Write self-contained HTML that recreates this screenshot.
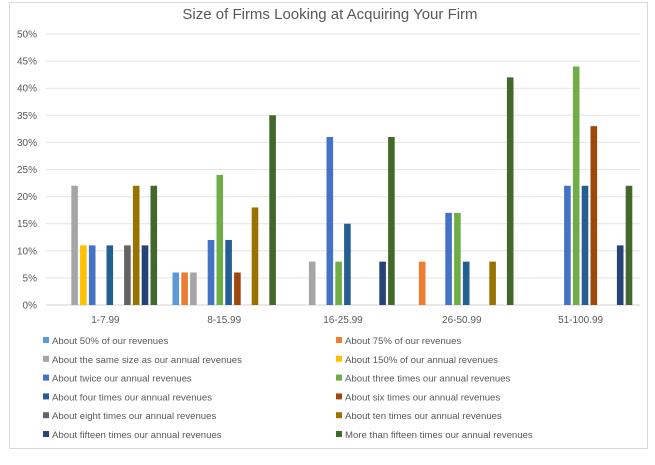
<!DOCTYPE html>
<html><head><meta charset="utf-8"><style>
body{margin:0;background:#fff;font-family:"Liberation Sans",sans-serif;}
#frame{position:absolute;left:9px;top:2px;width:639px;height:447px;border:1px solid #d9d9d9;box-sizing:border-box;}
</style></head><body>
<div id="frame"></div>
<svg id="chart" width="655" height="465" style="position:absolute;left:0;top:0">
<text x="330" y="19" text-anchor="middle" font-size="15" fill="#595959">Size of Firms Looking at Acquiring Your Firm</text>
<g id="grid"></g><g id="bars"></g><g id="legend"></g>
</svg>
<script>
const categories=["1-7.99","8-15.99","16-25.99","26-50.99","51-100.99"];
const seriesNames=["About 50% of our revenues","About 75% of our revenues","About the same size as our annual revenues","About 150% of our annual revenues","About twice our annual revenues","About three times our annual revenues","About four times our annual revenues","About six times our annual revenues","About eight times our annual revenues","About ten times our annual revenues","About fifteen times our annual revenues","More than fifteen times our annual revenues"];
const colors=["#5B9BD5","#ED7D31","#A5A5A5","#FFC000","#4472C4","#70AD47","#255E91","#9E480E","#636363","#997300","#264478","#43682B"];
const s50=[0,6,0,0,0];
const s75=[0,6,0,8,0];
const sSame=[22,6,8,0,0];
const s150=[11,0,0,0,0];
const sTwice=[11,12,31,17,22];
const sThree=[0,24,8,17,44];
const sFour=[11,12,15,8,22];
const sSix=[0,6,0,0,33];
const sEight=[11,0,0,0,0];
const sTen=[22,18,0,8,0];
const sFifteen=[11,0,8,0,11];
const sMore=[22,35,31,42,22];
const series=[s50,s75,sSame,s150,sTwice,sThree,sFour,sSix,sEight,sTen,sFifteen,sMore];
const yTicks=[0,5,10,15,20,25,30,35,40,45,50];
const NS="http://www.w3.org/2000/svg";
const L=46,R=640,T=34,B=305;
const y=v=>B-(v/50)*(B-T);
const cw=(R-L)/categories.length;
const step=8.8,bw=6.6;
const x=(ci,si)=>L+cw*ci+cw/2+(si-5.5)*step-bw/2;
function mk(tag,attrs,parent){const e=document.createElementNS(NS,tag);for(const k in attrs)e.setAttribute(k,attrs[k]);parent.appendChild(e);return e;}
const grid=document.getElementById('grid');
yTicks.forEach(t=>{
  const ln=mk('line',{x1:L,x2:R,y1:y(t),y2:y(t),stroke:t===0?'#d0d0d0':'#e4e4e4','stroke-width':1},grid);
  
  
  const tx=mk('text',{x:37,y:y(t)+3.5,'text-anchor':'end','font-size':10,fill:'#595959'},grid);
  tx.textContent=t+'%';
  
  
});
categories.forEach((c,ci)=>{
  const tx=mk('text',{x:L+cw*ci+cw/2,y:323,'text-anchor':'middle','font-size':10,fill:'#595959'},grid);
  tx.textContent=c;
  
  
});
const bars=document.getElementById('bars');
series.forEach((s,si)=>s.forEach((v,ci)=>{
  if(!v)return;
  const r=mk('rect',{x:x(ci,si),y:y(v),width:bw,height:B-y(v),fill:colors[si]},bars);
  
  
}));
const lg=document.getElementById('legend');
seriesNames.forEach((n,i)=>{
  const col=i%2,row=Math.floor(i/2);
  const lx=col?336:43,ly=341+row*18.8;
  const m=mk('rect',{x:lx,y:ly-4,width:6,height:6,fill:colors[i]},lg);
  
  
  const t=mk('text',{x:lx+9,y:ly+3,'font-size':9.6,fill:'#595959'},lg);
  t.textContent=n;
  
  
});
</script>
</body></html>
